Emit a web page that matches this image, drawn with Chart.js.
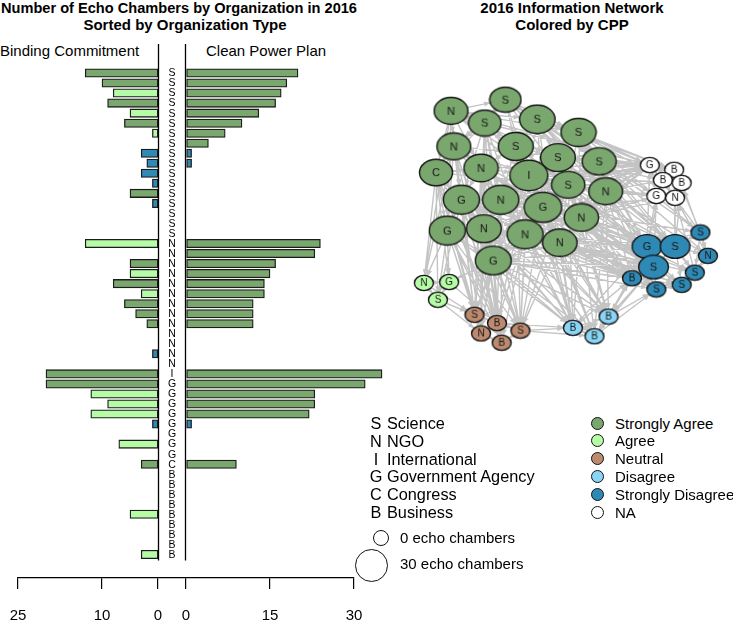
<!DOCTYPE html>
<html><head><meta charset="utf-8">
<script src="https://cdn.jsdelivr.net/npm/chart.js@4.4.1/dist/chart.umd.min.js"></script>
<style>
html,body{margin:0;padding:0;overflow:hidden;background:#fff;width:733px;height:621px;}
#wrap{position:relative;width:733px;height:621px;font-family:"Liberation Sans",Arial,Helvetica,sans-serif;color:#000;}
.t{position:absolute;white-space:nowrap;line-height:15px;font-size:15px;}
.l{font-size:16.3px;line-height:16px;}
.b{font-weight:bold;}
.c{text-align:center;}
.dot{position:absolute;border:1.3px solid #111;border-radius:50%;box-sizing:border-box;}
canvas{position:absolute;}
</style></head>
<body><div id="wrap">
<div class="t b c" style="left:0;top:1px;width:358px;font-size:14.6px;">Number of Echo Chambers by Organization in 2016</div>
<div class="t b c" style="left:0;top:17px;width:370px;">Sorted by Organization Type</div>
<div class="t" style="left:0;top:43px;">Binding Commitment</div>
<div class="t" style="left:206px;top:43px;">Clean Power Plan</div>
<div class="t b c" style="left:420px;top:0px;width:304px;">2016 Information Network</div>
<div class="t b c" style="left:420px;top:17px;width:304px;">Colored by CPP</div>
<canvas id="bars" width="400" height="621" style="left:0;top:0;width:400px;height:621px;"></canvas>
<canvas id="net" width="353" height="340" style="left:380px;top:40px;width:353px;height:340px;"></canvas>
<div id="legend"></div>
</div>
<script>
// ---------- DATA ----------
const rowTypes = ['S','S','S','S','S','S','S','S','S','S','S','S','S','S','S','S','S',
  'N','N','N','N','N','N','N','N','N','N','N','N','N',
  'I',
  'G','G','G','G','G','G','G','G',
  'C',
  'B','B','B','B','B','B','B','B','B'];
const bindingValues = [13,10,8,9,5,6,1,0,3,2,3,1,5,1,0,0,0,
  13,0,5,5,8,3,6,4,2,0,0,1,0,
  20,
  20,12,9,12,1,0,7,0,
  3,
  0,0,0,0,5,0,0,0,3];
const bindingStance = ['SA','SA','A','SA','A','SA','A','','SD','SD','SD','SD','SA','SD','','','',
  'A','','SA','A','SA','A','SA','SA','SA','','','SD','',
  'SA',
  'SA','A','A','A','SD','','A','',
  'SA',
  '','','','','A','','','','A'];
const cppValues = [20,18,17,16,13,10,7,4,1,1,0,0,0,0,0,0,0,
  24,23,16,15,14,14,12,12,12,0,0,0,0,
  35,
  32,23,23,22,1,0,0,0,
  9,
  0,0,0,0,0,0,0,0,0];
const cppStance = ['SA','SA','SA','SA','SA','SA','SA','SA','SD','SD','SD','SD','SD','SD','N','N','A',
  'SA','SA','SA','SA','SA','SA','SA','SA','SA','A','N','SD','NA',
  'SA',
  'SA','SA','SA','SA','SD','A','NA','NA',
  'SA',
  'N','N','D','D','D','SD','NA','NA','NA'];
const leftTickLabels = [25, 10, 0];
const rightTickLabels = [0, 15, 30];

// network layout (node -> row of the table above), layout coordinates
const nodeRow = [25,7,6,0,1,24,2,3,4,39,21,30,5,23,32,17,31,22,33,19,18,20,34,26,36,16,14,40,27,15,41,42,43,44,10,35,8,28,9,11,45,12,13,37,46,47,48,38,29];
const nodeX = [64,122,100,156,200,67,133,178,222,48,96,147,189,229,75,117,162,203,60,99,143,180,109,35,62,50,89,113,96,138,118,194,232,217,330,273,303,338,280,324,257,310,283,276,302,290,310,283,303];
const nodeY = [64,52,77,73,87,102,102,114,118,130,125,133,143,150,159,159,167,178,192,190,196,205,224,248,247,266,282,291,302,299,312,296,284,305,194,209,209,219,231,237,243,250,255,122,127,138,141,155,157];
const edgeAdjacency = [
 "0:1,2,3,4,5,9,10,11,14,18,23,43,35,6,7",
 "1:3,4,6,2,11,43,36,5,8,12,13,47",
 "2:5,6,11,12,15,19,43,35,26,9,14,20,27,29",
 "3:4,6,7,8,12,43,44,36,31,11,16,13,35,47",
 "4:8,13,43,44,45,35,34,36,12,7,17",
 "5:9,10,14,15,18,19,22,43,38,27,11,23,26,28,29,40",
 "6:7,10,11,12,15,16,43,35,40,20,21,29,31,33",
 "7:8,12,13,16,17,43,45,36,38,32,11",
 "8:13,17,43,47,35,34,37,39,12,44",
 "9:14,18,19,23,24,25,26,12,10,22,27,28,30",
 "10:11,14,15,19,20,43,38,28,16,22,26,29,30,40",
 "11:12,15,16,17,20,21,43,44,46,35,36,38,40,26,27,29,31,32,33,47,22",
 "12:13,16,17,21,43,47,35,36,41,31,20,29,32,40",
 "13:17,21,43,47,48,35,38,37,42,33,45,32,40",
 "14:15,18,19,20,22,23,25,26,28,40,43,36,30,27,29,31,38",
 "15:16,19,20,21,22,43,35,30,31,17,39,27,28,32,33,40",
 "16:17,20,21,22,43,48,36,38,42,29,32,34,33,40,31",
 "17:21,43,47,35,36,38,39,40,41,33,48,31,32,42",
 "18:19,22,23,24,25,26,27,43,35,31,28,20,29,30,40",
 "19:20,22,26,28,43,38,32,40,29,21,27,30,31,33",
 "20:21,22,43,36,41,27,30,33,38,29,31,32,40,42",
 "21:22,43,35,38,40,42,29,31,32,33,39,41",
 "22:26,27,28,29,30,31,32,43,35,40,24,33,42,38,41",
 "23:24,25,26","24:25,27","25:26,28","26:27,28,29","27:28,29,30,31","28:30","29:30,31,33",
 "31:32,33,40","32:33,40,42","33:42",
 "34:35,36,37,39,43,44","35:36,38,40,43,45,47,31,32","36:37,38,39,41,44,46,48","37:39,41,46,48",
 "38:40,41,42,47,32,33","39:41,42,48","40:42,31,32,33","41:42",
 "43:44,45,47","44:45,46","45:46,47,48","46:48","47:48"];

const typeNames = [['S','Science'],['N','NGO'],['I','International'],['G','Government Agency'],['C','Congress'],['B','Business']];
const stanceNames = [['SA','Strongly Agree'],['A','Agree'],['N','Neutral'],['D','Disagree'],['SD','Strongly Disagree'],['NA','NA']];

// ---------- STYLE ----------
const COLORS = {SA:'#7aa76d', A:'#b6fca7', N:'#bb8a6f', D:'#8ad4f6', SD:'#2f89b5', NA:'#ffffff', '':'#ffffff'};
const FONT = '"Liberation Sans", Arial, Helvetica, sans-serif';
const GAP = 5; // axis units of empty column between the two panels

// ---------- BAR PANEL ----------
const rowIdx = rowTypes.map((_, i) => i);
const leftData = rowIdx.map(i => ({y: i, x: bindingValues[i] > 0 ? [-GAP - bindingValues[i], -GAP] : null}));
const rightData = rowIdx.map(i => ({y: i, x: cppValues[i] > 0 ? [0, cppValues[i]] : null}));
const tickValues = leftTickLabels.map(v => -GAP - v).concat(rightTickLabels);
const tickText = leftTickLabels.concat(rightTickLabels).map(String);

const columnPlugin = {
  id: 'column',
  afterDatasetsDraw(chart) {
    const {ctx, scales: {x, y}} = chart;
    const xl = x.getPixelForValue(-GAP), xr = x.getPixelForValue(0), xm = x.getPixelForValue(-GAP / 2);
    const top = chart.chartArea.top - 24, bottom = y.getPixelForValue(rowTypes.length - 0.5) + 1;
    ctx.save();
    ctx.strokeStyle = '#000'; ctx.lineWidth = 1.3;
    ctx.beginPath();
    ctx.moveTo(Math.round(xl) + 0.5, top); ctx.lineTo(Math.round(xl) + 0.5, bottom);
    ctx.moveTo(Math.round(xr) - 0.5, top); ctx.lineTo(Math.round(xr) - 0.5, bottom);
    ctx.stroke();
    ctx.fillStyle = '#000'; ctx.font = '10.5px ' + FONT; ctx.textAlign = 'center'; ctx.textBaseline = 'middle';
    rowTypes.forEach((t, i) => ctx.fillText(t, xm, y.getPixelForValue(i) + 0.5));
    ctx.restore();
  }
};

new Chart(document.getElementById('bars'), {
  type: 'bar',
  data: {
    datasets: [
      {label: 'Binding Commitment', data: leftData, grouped: false, clip: false,
       backgroundColor: rowIdx.map(i => COLORS[bindingStance[i]]),
       borderColor: '#1c1c1c', borderWidth: 1.3, borderSkipped: false, barThickness: 8.4},
      {label: 'Clean Power Plan', data: rightData, grouped: false, clip: false,
       backgroundColor: rowIdx.map(i => COLORS[cppStance[i]]),
       borderColor: '#1c1c1c', borderWidth: 1.3, borderSkipped: false, barThickness: 8.4}
    ]
  },
  options: {
    indexAxis: 'y', responsive: false, animation: false, maintainAspectRatio: false,
    layout: {padding: {left: 18, right: 46, top: 68, bottom: 0}},
    plugins: {legend: {display: false}, tooltip: {enabled: false}},
    scales: {
      y: {type: 'linear', min: -0.5, max: 50.35, reverse: true, display: false, offset: false, grid: {offset: false}},
      x: {type: 'linear', min: -30, max: 30, position: 'bottom', offset: false,
        afterBuildTicks: s => { s.ticks = tickValues.map(v => ({value: v})); },
        afterFit: s => { s.height = 43; s.paddingLeft = 0; s.paddingRight = 0; },
        ticks: {autoSkip: false, maxRotation: 0, padding: 18, color: '#000',
          font: {family: FONT, size: 15}, callback: (v, i) => tickText[i]},
        grid: {drawOnChartArea: false, drawTicks: true, tickLength: 11, color: '#000', lineWidth: 1.2},
        border: {display: true, color: '#000', width: 1.2}
      }
    }
  },
  plugins: [columnPlugin]
});

// ---------- NETWORK ----------
function nodeSize(v) { const w = v === 0 ? 19 : 28 + 10 * Math.sqrt(v / 35); return [w, w * 0.8]; }
const nodeImages = nodeRow.map(r => {
  const [w, h] = nodeSize(cppValues[r]);
  const c = document.createElement('canvas');
  c.width = Math.round(w + 3); c.height = Math.round(h + 3);
  const g = c.getContext('2d');
  g.beginPath(); g.ellipse(c.width / 2, c.height / 2, w / 2, h / 2, 0, 0, Math.PI * 2);
  g.fillStyle = COLORS[cppStance[r]]; g.fill();
  g.lineWidth = 1.4; g.strokeStyle = '#151515'; g.stroke();
  g.fillStyle = '#151515'; g.font = (cppValues[r] === 0 ? '10px ' : '11px ') + FONT;
  g.textAlign = 'center'; g.textBaseline = 'middle';
  g.fillText(rowTypes[r], c.width / 2, c.height / 2 + 0.5);
  return c;
});
const edges = [];
edgeAdjacency.forEach(s => { const [a, list] = s.split(':'); list.split(',').forEach(b => edges.push([+a, +b])); });
const edgeData = [];
edges.forEach(([a, b]) => { edgeData.push({x: nodeX[a], y: nodeY[a]}, {x: nodeX[b], y: nodeY[b]}, {x: NaN, y: NaN}); });

const arrowPlugin = {
  id: 'arrows',
  afterDatasetDraw(chart, args) {
    if (args.index !== 1) return;
    const {ctx, scales: {x, y}} = chart;
    ctx.save(); ctx.fillStyle = '#c4c4c4';
    edges.forEach(([a, b]) => {
      const ax = x.getPixelForValue(nodeX[a]), ay = y.getPixelForValue(nodeY[a]);
      const bx = x.getPixelForValue(nodeX[b]), by = y.getPixelForValue(nodeY[b]);
      const dx = bx - ax, dy = by - ay, len = Math.hypot(dx, dy); if (!len) return;
      const ux = dx / len, uy = dy / len;
      const [w, h] = nodeSize(cppValues[nodeRow[b]]);
      const r = 1 / Math.sqrt((ux / (w / 2)) ** 2 + (uy / (h / 2)) ** 2);
      const tx = bx - ux * r, ty = by - uy * r;
      ctx.beginPath(); ctx.moveTo(tx, ty);
      ctx.lineTo(tx - ux * 6 - uy * 2.6, ty - uy * 6 + ux * 2.6);
      ctx.lineTo(tx - ux * 6 + uy * 2.6, ty - uy * 6 - ux * 2.6);
      ctx.closePath(); ctx.fill();
    });
    ctx.restore();
  }
};

new Chart(document.getElementById('net'), {
  type: 'scatter',
  data: {
    datasets: [
      {label: 'nodes', data: nodeX.map((v, i) => ({x: v, y: nodeY[i]})), pointStyle: nodeImages, pointRadius: 10, clip: false},
      {label: 'edges', data: edgeData, showLine: true, spanGaps: false, pointRadius: 0,
       borderColor: '#c4c4c4', borderWidth: 1.4}
    ]
  },
  options: {
    responsive: false, animation: false, maintainAspectRatio: false,
    layout: {padding: 0},
    plugins: {legend: {display: false}, tooltip: {enabled: false}},
    scales: {
      x: {type: 'linear', min: 0, max: 353, display: false},
      y: {type: 'linear', min: 0, max: 340, reverse: true, display: false}
    }
  },
  plugins: [arrowPlugin]
});

// ---------- LEGENDS ----------
const lg = document.getElementById('legend');
let html = '';
typeNames.forEach(([k, name], i) => {
  const top = 415 + 17.8 * i;
  html += `<div class="t l c" style="left:369px;top:${top}px;width:14px;">${k}</div>`;
  html += `<div class="t l" style="left:387px;top:${top}px;">${name}</div>`;
});
stanceNames.forEach(([k, name], i) => {
  const cy = 423 + 17.8 * i;
  html += `<div class="dot" style="left:590.5px;top:${cy - 6.5}px;width:13px;height:13px;background:${COLORS[k]};"></div>`;
  html += `<div class="t" style="left:615px;top:${cy - 7.5}px;">${name}</div>`;
});
html += `<div class="dot" style="left:373px;top:530px;width:16px;height:16px;background:#fff;"></div>`;
html += `<div class="t" style="left:400px;top:529.5px;">0 echo chambers</div>`;
html += `<div class="dot" style="left:355px;top:549px;width:33px;height:33px;background:#fff;"></div>`;
html += `<div class="t" style="left:400px;top:555.5px;">30 echo chambers</div>`;
lg.innerHTML = html;
</script>
</body></html>
